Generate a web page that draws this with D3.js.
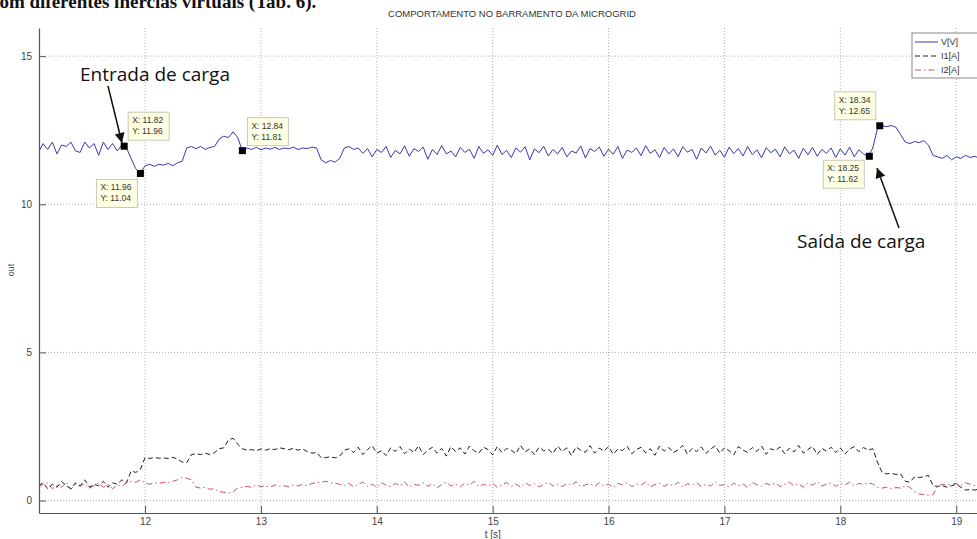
<!DOCTYPE html>
<html>
<head>
<meta charset="utf-8">
<script src="https://cdn.jsdelivr.net/npm/d3@7"></script>
<style>
  body { margin: 0; background: #fff; }
  svg { display: block; font-family: "Liberation Sans", Arial, sans-serif; }
</style>
</head>
<body>
<svg id="chart" width="977" height="539"></svg>
<script>
// sample grid of the simulation output (s)
const tStart = 11.08;
const tStep = 0.04;

// V[V] on the bus
const voltage = [
  11.75, 12.05, 11.85, 12.10, 11.70, 12.00, 11.95, 12.10, 11.80, 11.75,
  12.10, 11.90, 12.05, 11.65, 12.10, 11.85, 12.05, 11.80, 12.00, 11.90,
  11.55, 11.20, 11.04, 11.30, 11.35, 11.28, 11.35, 11.32, 11.38, 11.30,
  11.40, 11.45, 11.90, 11.95, 11.88, 11.95, 11.85, 11.92, 11.95, 12.20,
  12.30, 12.25, 12.45, 12.25, 11.81, 11.90, 11.85, 11.92, 11.84, 11.90,
  11.86, 11.92, 11.85, 11.90, 11.87, 11.93, 11.85, 11.90, 11.88, 11.93,
  11.90, 11.50, 11.40, 11.48, 11.42, 11.55, 11.90, 11.95, 11.85, 11.90,
  11.72, 11.88, 11.60, 11.85, 11.75, 11.95, 11.58, 11.82, 11.70, 11.97,
  11.62, 11.88, 11.78, 11.93, 11.52, 11.85, 11.68, 11.98, 11.70, 11.80,
  11.60, 11.92, 11.75, 11.86, 11.55, 11.95, 11.72, 11.84, 11.65, 12.00,
  11.68, 11.82, 11.58, 11.90, 11.76, 11.94, 11.50, 11.87, 11.74, 11.96,
  11.63, 11.85, 11.70, 11.92, 11.60, 11.80, 11.73, 11.97, 11.56, 11.88,
  11.78, 11.93, 11.62, 11.86, 11.69, 11.95, 11.55, 11.83, 11.75, 11.90,
  11.64, 11.98, 11.72, 11.84, 11.58, 11.92, 11.70, 11.87, 11.61, 11.94,
  11.76, 11.85, 11.52, 11.90, 11.73, 11.96, 11.66, 11.82, 11.59, 11.93,
  11.71, 11.88, 11.63, 11.95, 11.68, 11.84, 11.57, 11.91, 11.74, 11.86,
  11.60, 11.94, 11.70, 11.83, 11.55, 11.89, 11.67, 11.92, 11.62, 11.85,
  11.72, 11.90, 11.58, 11.87, 11.66, 11.93, 11.60, 11.84, 11.70, 11.62,
  11.90, 12.55, 12.65, 12.62, 12.66, 12.60, 12.35, 12.10, 12.05, 12.12,
  12.08, 12.15, 12.00, 11.65, 11.60, 11.55, 11.65, 11.50, 11.60, 11.55,
  11.65, 11.58, 11.62, 11.55, 11.60
];

// I1[A]
const current1 = [
  0.50, 0.60, 0.40, 0.55, 0.45, 0.65, 0.50, 0.40, 0.60, 0.50,
  0.70, 0.45, 0.55, 0.50, 0.65, 0.45, 0.60, 0.55, 0.70, 0.60,
  1.00, 0.95, 1.05, 1.45, 1.42, 1.45, 1.43, 1.44, 1.42, 1.46,
  1.40, 1.30, 1.28, 1.55, 1.58, 1.55, 1.60, 1.55, 1.62, 1.75,
  1.78, 2.05, 2.10, 1.90, 1.75, 1.70, 1.72, 1.68, 1.74, 1.70,
  1.75, 1.72, 1.78, 1.75, 1.72, 1.76, 1.70, 1.74, 1.65, 1.60,
  1.62, 1.45, 1.45, 1.48, 1.44, 1.50, 1.70, 1.75, 1.62, 1.80,
  1.55, 1.72, 1.85, 1.60, 1.68, 1.52, 1.78, 1.66, 1.82, 1.58,
  1.74, 1.62, 1.85, 1.55, 1.70, 1.80, 1.60, 1.76, 1.50, 1.82,
  1.65, 1.78, 1.57, 1.84, 1.68, 1.60, 1.80, 1.72, 1.54, 1.83,
  1.62, 1.76, 1.70, 1.58, 1.86, 1.64, 1.75, 1.55, 1.80, 1.68,
  1.73, 1.59, 1.84, 1.66, 1.78, 1.52, 1.81, 1.70, 1.63, 1.85,
  1.60, 1.77, 1.67, 1.82, 1.56, 1.74, 1.69, 1.83, 1.58, 1.72,
  1.80, 1.61, 1.75, 1.53, 1.84, 1.67, 1.79, 1.62, 1.71, 1.86,
  1.57, 1.76, 1.65, 1.81, 1.59, 1.73, 1.85, 1.60, 1.78, 1.68,
  1.54, 1.82, 1.70, 1.63, 1.79, 1.66, 1.84, 1.56, 1.75, 1.69,
  1.81, 1.58, 1.77, 1.64, 1.86, 1.60, 1.72, 1.83, 1.55, 1.76,
  1.67, 1.80, 1.62, 1.78, 1.57, 1.74, 1.82, 1.65, 1.79, 1.70,
  1.75, 1.30, 0.95, 0.90, 0.92, 0.88, 0.90, 0.65, 0.62, 0.80,
  0.78, 0.80, 0.85, 0.50, 0.48, 0.50, 0.45, 0.50, 0.55, 0.45,
  0.35, 0.38, 0.35, 0.40, 0.38
];

// I2[A]
const current2 = [
  0.45, 0.55, 0.60, 0.40, 0.50, 0.45, 0.62, 0.38, 0.55, 0.48,
  0.58, 0.42, 0.50, 0.60, 0.45, 0.55, 0.40, 0.52, 0.48, 0.60,
  0.65, 0.62, 0.70, 0.60, 0.55, 0.60, 0.58, 0.62, 0.60, 0.65,
  0.70, 0.78, 0.75, 0.70, 0.45, 0.42, 0.45, 0.38, 0.40, 0.30,
  0.28, 0.25, 0.30, 0.42, 0.45, 0.48, 0.44, 0.52, 0.47, 0.50,
  0.45, 0.53, 0.48, 0.50, 0.46, 0.52, 0.49, 0.55, 0.50, 0.58,
  0.60, 0.62, 0.65, 0.60, 0.58, 0.55, 0.50, 0.58, 0.46, 0.55,
  0.62, 0.48, 0.56, 0.44, 0.60, 0.52, 0.47, 0.58, 0.50, 0.63,
  0.45, 0.55, 0.51, 0.60, 0.48, 0.57, 0.43, 0.54, 0.62, 0.49,
  0.56, 0.46, 0.59, 0.52, 0.65, 0.47, 0.55, 0.50, 0.58, 0.44,
  0.53, 0.61, 0.48, 0.56, 0.45, 0.60, 0.51, 0.57, 0.46, 0.54,
  0.62, 0.49, 0.55, 0.47, 0.58, 0.52, 0.64, 0.46, 0.53, 0.57,
  0.48, 0.60, 0.50, 0.55, 0.44, 0.58, 0.53, 0.61, 0.47, 0.56,
  0.51, 0.63, 0.46, 0.54, 0.59, 0.48, 0.56, 0.50, 0.62, 0.45,
  0.57, 0.52, 0.60, 0.47, 0.55, 0.49, 0.63, 0.51, 0.54, 0.46,
  0.59, 0.50, 0.56, 0.44, 0.61, 0.53, 0.48, 0.58, 0.52, 0.60,
  0.47, 0.55, 0.62, 0.50, 0.57, 0.45, 0.59, 0.52, 0.64, 0.49,
  0.55, 0.60, 0.48, 0.57, 0.53, 0.62, 0.50, 0.58, 0.54, 0.60,
  0.56, 0.45, 0.42, 0.45, 0.40, 0.44, 0.42, 0.50, 0.45, 0.30,
  0.22, 0.20, 0.18, 0.20, 0.50, 0.55, 0.52, 0.55, 0.58, 0.50,
  0.60, 0.55, 0.50, 0.55, 0.60
];

const xTicks = [12, 13, 14, 15, 16, 17, 18, 19];
const yTicks = [0, 5, 10, 15];
const legendLabels = ["V[V]", "I1[A]", "I2[A]"];

// data cursors placed on the figure
const tipX = [11.82, 11.96, 12.84, 18.25, 18.34];
const tipY = [11.96, 11.04, 11.81, 11.62, 12.65];

const svg = d3.select("#chart");
const plot = { left: 39, right: 991, top: 28, bottom: 513 };

const x = d3.scaleLinear().domain([11.085, 19.3]).range([plot.left, plot.right]);
const y = d3.scaleLinear().domain([-0.42, 15.95]).range([plot.bottom, plot.top]);
const time = voltage.map((_, i) => +(tStart + i * tStep).toFixed(2));

svg.append("rect").attr("width", 977).attr("height", 539).attr("fill", "#fff");

// page text cut off above the figure
svg.append("text")
  .attr("x", -9).attr("y", 8)
  .attr("font-family", "Liberation Serif, serif")
  .attr("font-size", 19)
  .attr("font-weight", "bold")
  .attr("fill", "#111")
  .text("com diferentes inércias virtuais (Tab. 6).");

svg.append("text")
  .attr("x", 512).attr("y", 17)
  .attr("text-anchor", "middle")
  .attr("font-size", 9.5)
  .attr("fill", "#333")
  .text("COMPORTAMENTO NO BARRAMENTO DA MICROGRID");

// dotted grid
const grid = svg.append("g").attr("stroke", "#b0b0b0").attr("stroke-dasharray", "1,2");
grid.selectAll(".gx").data(xTicks).join("line")
  .attr("x1", d => x(d)).attr("x2", d => x(d))
  .attr("y1", plot.top).attr("y2", plot.bottom);
grid.selectAll(".gy").data(yTicks).join("line")
  .attr("x1", plot.left).attr("x2", plot.right)
  .attr("y1", d => y(d)).attr("y2", d => y(d));

// axes, MATLAB style ticks pointing inwards
const xAxis = svg.append("g")
  .attr("transform", `translate(0,${plot.bottom})`)
  .call(d3.axisBottom(x).tickValues(xTicks).tickSizeInner(-7).tickSizeOuter(0).tickPadding(5));
const yAxis = svg.append("g")
  .attr("transform", `translate(${plot.left},0)`)
  .call(d3.axisLeft(y).tickValues(yTicks).tickSizeInner(-7).tickSizeOuter(0).tickPadding(7));

[xAxis, yAxis].forEach(ax => {
  ax.select(".domain").attr("stroke", "#555").attr("stroke-width", 1.2);
  ax.selectAll(".tick line").attr("stroke", "#555");
  ax.selectAll(".tick text")
    .attr("font-family", "Liberation Sans, Arial, sans-serif")
    .attr("font-size", 10).attr("fill", "#444");
});

svg.append("text")
  .attr("transform", "translate(14,270) rotate(-90)")
  .attr("text-anchor", "middle")
  .attr("font-size", 9).attr("fill", "#444")
  .text("out");
svg.append("text")
  .attr("x", x(15)).attr("y", 538)
  .attr("text-anchor", "middle")
  .attr("font-size", 10).attr("fill", "#444")
  .text("t [s]");

// series
svg.append("clipPath").attr("id", "clip")
  .append("rect")
  .attr("x", plot.left + 1).attr("y", plot.top)
  .attr("width", plot.right - plot.left).attr("height", plot.bottom - plot.top - 1);

const series = [
  { values: current2, color: "#d2505e", dash: "6,3,1.5,3" },
  { values: current1, color: "#1e1e1e", dash: "5,3" },
  { values: voltage, color: "#3838b0", dash: null }
];
const line = d3.line().x((d, i) => x(time[i])).y(d => y(d));

series.forEach(s => {
  svg.append("path")
    .datum(s.values)
    .attr("clip-path", "url(#clip)")
    .attr("fill", "none")
    .attr("stroke", s.color)
    .attr("stroke-width", 1)
    .attr("stroke-dasharray", s.dash)
    .attr("d", line);
});

// legend
const legend = svg.append("g").attr("transform", "translate(912,33)");
legend.append("rect")
  .attr("width", 80).attr("height", 45)
  .attr("fill", "#fff").attr("stroke", "#888");
const legendStyles = [series[2], series[1], series[0]];
legendLabels.forEach((label, i) => {
  const ly = 9 + i * 14;
  legend.append("line")
    .attr("x1", 3).attr("x2", 26).attr("y1", ly).attr("y2", ly)
    .attr("stroke", legendStyles[i].color)
    .attr("stroke-dasharray", legendStyles[i].dash);
  legend.append("text")
    .attr("x", 29).attr("y", ly + 3)
    .attr("font-size", 9).attr("fill", "#333")
    .text(label);
});

// data tips: box offset relative to the marker
const tipBoxes = [
  { dx: 4, dy: -34 },
  { dx: -44, dy: 6 },
  { dx: 5, dy: -33 },
  { dx: -46, dy: 4 },
  { dx: -45, dy: -34 }
];
tipX.forEach((tx, i) => {
  const px = x(tx), py = y(tipY[i]);
  const b = tipBoxes[i];
  const g = svg.append("g").attr("transform", `translate(${px + b.dx},${py + b.dy})`);
  g.append("rect")
    .attr("width", 41).attr("height", 28)
    .attr("fill", "#ffffe4").attr("stroke", "#c8c8b8");
  g.append("text").attr("x", 4).attr("y", 11)
    .attr("font-size", 8.5).attr("fill", "#333")
    .text(`X: ${tx.toFixed(2)}`);
  g.append("text").attr("x", 4).attr("y", 22)
    .attr("font-size", 8.5).attr("fill", "#333")
    .text(`Y: ${tipY[i].toFixed(2)}`);
  svg.append("rect")
    .attr("x", px - 3.5).attr("y", py - 3.5)
    .attr("width", 7).attr("height", 7)
    .attr("fill", "#000");
});

// annotations with arrows
svg.append("defs").append("marker")
  .attr("id", "head")
  .attr("viewBox", "0 0 10 10")
  .attr("refX", 10).attr("refY", 5)
  .attr("markerWidth", 12).attr("markerHeight", 10)
  .attr("markerUnits", "userSpaceOnUse")
  .attr("orient", "auto")
  .append("path").attr("d", "M0,0 L10,5 L0,10 Z").attr("fill", "#111");

const notes = [
  { text: "Entrada de carga", tx: 80, ty: 81, from: [108, 86], to: [122, 143] },
  { text: "Saída de carga", tx: 797, ty: 248, from: [899, 228], to: [877, 168] }
];
notes.forEach(n => {
  svg.append("text")
    .attr("x", n.tx).attr("y", n.ty)
    .attr("font-family", "Open Sans, sans-serif")
    .attr("font-size", 19).attr("fill", "#111")
    .text(n.text);
  svg.append("line")
    .attr("x1", n.from[0]).attr("y1", n.from[1])
    .attr("x2", n.to[0]).attr("y2", n.to[1])
    .attr("stroke", "#111").attr("stroke-width", 1.5)
    .attr("marker-end", "url(#head)");
});
</script>
</body>
</html>
